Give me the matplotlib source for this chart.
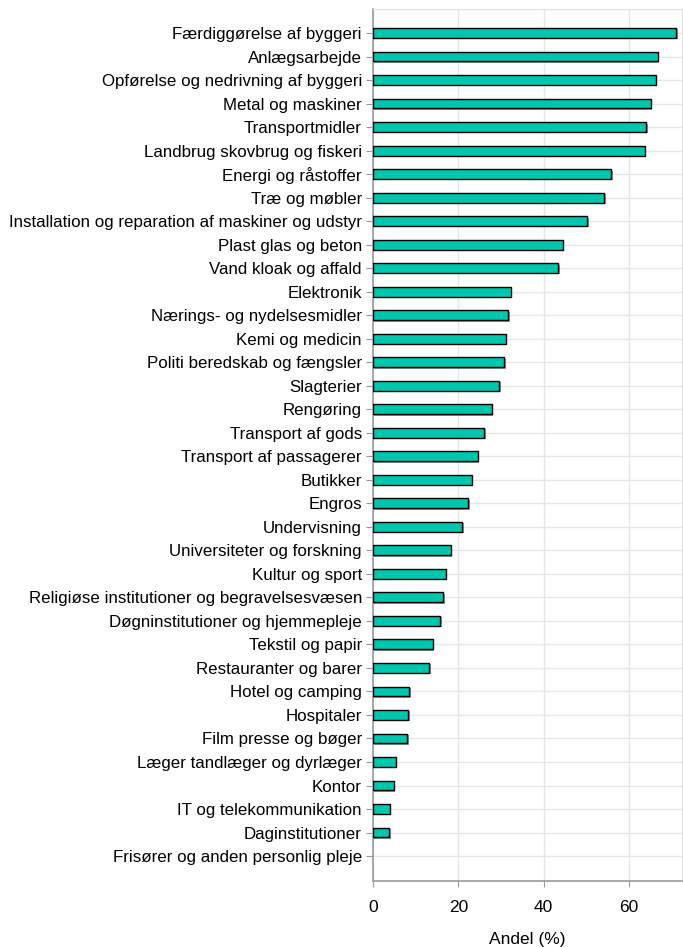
import matplotlib
matplotlib.use("Agg")
import matplotlib.pyplot as plt
import matplotlib.patheffects as pe

plt.rcParams["font.family"] = ["Liberation Sans", "DejaVu Sans"]

categories = [
    "Færdiggørelse af byggeri",
    "Anlægsarbejde",
    "Opførelse og nedrivning af byggeri",
    "Metal og maskiner",
    "Transportmidler",
    "Landbrug skovbrug og fiskeri",
    "Energi og råstoffer",
    "Træ og møbler",
    "Installation og reparation af maskiner og udstyr",
    "Plast glas og beton",
    "Vand kloak og affald",
    "Elektronik",
    "Nærings- og nydelsesmidler",
    "Kemi og medicin",
    "Politi beredskab og fængsler",
    "Slagterier",
    "Rengøring",
    "Transport af gods",
    "Transport af passagerer",
    "Butikker",
    "Engros",
    "Undervisning",
    "Universiteter og forskning",
    "Kultur og sport",
    "Religiøse institutioner og begravelsesvæsen",
    "Døgninstitutioner og hjemmepleje",
    "Tekstil og papir",
    "Restauranter og barer",
    "Hotel og camping",
    "Hospitaler",
    "Film presse og bøger",
    "Læger tandlæger og dyrlæger",
    "Kontor",
    "IT og telekommunikation",
    "Daginstitutioner",
    "Frisører og anden personlig pleje",
]
values = [
    71.1, 66.7, 66.3, 65.1, 64.1, 63.7, 55.9, 54.2, 50.2, 44.5, 43.4, 32.3,
    31.7, 31.2, 30.8, 29.6, 27.9, 26.1, 24.5, 23.2, 22.3, 20.9, 18.2, 17.1,
    16.5, 15.8, 14.0, 13.2, 8.5, 8.3, 8.0, 5.4, 4.9, 4.0, 3.8, 0.0,
]
xticks = [0, 20, 40, 60]

fig = plt.figure(figsize=(6.83, 9.47), dpi=100)
ax = fig.add_axes([0.5461, 0.0697, 0.4529, 0.9208])

ypos = list(range(len(categories)))
bars = ax.barh(ypos, values, height=0.42, color="#00c6ae", edgecolor="black",
               linewidth=1.0, zorder=3)
for b, v in zip(bars, values):
    if v == 0:
        b.set_visible(False)
        continue
    b.set_path_effects([pe.SimplePatchShadow(offset=(1, -1), shadow_rgbFace="#777777",
                                             alpha=0.8), pe.Normal()])

ax.set_yticks(ypos)
ax.set_yticklabels(categories, fontsize=12.2)
ax.set_ylim(len(categories) - 1 + 1.06, -1.02)
ax.set_xlim(0, 72.5)
ax.set_xticks(xticks)
ax.set_xticklabels([str(t) for t in xticks], fontsize=12.5)
ax.set_xlabel("Andel (%)", fontsize=12.5, labelpad=12)

ax.grid(True, color="#e6e6e6", linewidth=1.0, zorder=0)
ax.set_axisbelow(True)
ax.tick_params(axis="y", length=5, color="#999999", pad=3)
ax.tick_params(axis="x", length=4, color="#999999", pad=10)
for side in ["left", "bottom"]:
    ax.spines[side].set_color("#999999")
    ax.spines[side].set_linewidth(1.2)
for side in ["top", "right"]:
    ax.spines[side].set_color("#e0e0e0")

# title sits almost entirely above the canvas, as in the source image
fig.text(0.72, 1.0045, "Andel udsat for støj efter branchegruppe (procent)",
         ha="right", va="baseline", fontsize=14)

fig.savefig("out.png", dpi=100)
